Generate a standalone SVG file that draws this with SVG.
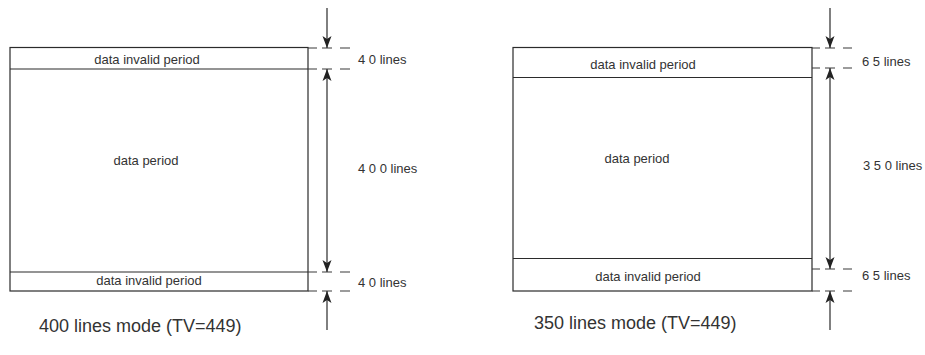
<svg xmlns="http://www.w3.org/2000/svg" width="925" height="355" viewBox="0 0 925 355">
<style>
.box{fill:none;stroke:#2b2b2b;stroke-width:1.2}
.ln{stroke:#2b2b2b;stroke-width:1.2;fill:none}
.dash{stroke:#3a3a3a;stroke-width:1.2;fill:none}
.t{font-family:"Liberation Sans",Arial,sans-serif;font-size:13px;fill:#333}
.tc{text-anchor:middle}
.big{font-family:"Liberation Sans",Arial,sans-serif;font-size:18px;fill:#333}
</style>
<defs>
<marker id="ah" markerUnits="userSpaceOnUse" markerWidth="14" markerHeight="12" refX="0" refY="0" viewBox="-13 -6 14 12" orient="auto-start-reverse">
<path d="M0,0 L-12,-4.5 L-9,0 L-12,4.5 Z" fill="#222"/>
</marker>
</defs>

<g id="left-diagram">
<g id="left-box">
<rect class="box" x="10" y="47.5" width="298" height="243.5"/>
<line class="ln" x1="10" y1="69" x2="308" y2="69"/>
<line class="ln" x1="10" y1="272" x2="308" y2="272"/>
</g>
<g id="left-top-invalid"><text class="t tc" x="147" y="64">data invalid period</text></g>
<g id="left-data"><text class="t tc" x="146" y="165">data period</text></g>
<g id="left-bottom-invalid"><text class="t tc" x="149" y="285">data invalid period</text></g>
<g id="left-labels">
<text class="t" x="358" y="64">4 0 lines</text>
<text class="t" x="358" y="173">4 0 0 lines</text>
<text class="t" x="358" y="287">4 0 lines</text>
</g>
<g id="left-caption"><text class="big" x="39" y="332">400 lines mode (TV=449)</text></g>
</g>

<g id="right-diagram">
<g id="right-box">
<rect class="box" x="513" y="47.5" width="299" height="243.5"/>
<line class="ln" x1="513" y1="77.5" x2="812" y2="77.5"/>
<line class="ln" x1="513" y1="258.5" x2="812" y2="258.5"/>
</g>
<g id="right-top-invalid"><text class="t tc" x="643" y="69">data invalid period</text></g>
<g id="right-data"><text class="t tc" x="637" y="163">data period</text></g>
<g id="right-bottom-invalid"><text class="t tc" x="648" y="281">data invalid period</text></g>
<g id="right-labels">
<text class="t" x="862" y="66">6 5 lines</text>
<text class="t" x="863" y="170">3 5 0 lines</text>
<text class="t" x="862" y="280">6 5 lines</text>
</g>
<g id="right-caption"><text class="big" x="534" y="329">350 lines mode (TV=449)</text></g>
</g>

<g id="connectors">
<path class="dash" d="M308,48 H317 M322,48 H332 M340,48 H350"/>
<path class="dash" d="M308,69 H317 M322,69 H332 M340,69 H350"/>
<path class="dash" d="M308,272 H317 M322,272 H332 M340,272 H350"/>
<path class="dash" d="M308,291 H317 M322,291 H332 M340,291 H350"/>
<line class="ln" x1="327" y1="8" x2="327" y2="48" marker-end="url(#ah)"/>
<line class="ln" x1="327" y1="69" x2="327" y2="272" marker-start="url(#ah)" marker-end="url(#ah)"/>
<line class="ln" x1="327" y1="330" x2="327" y2="291" marker-end="url(#ah)"/>
<path class="dash" d="M812,48 H820 M825,48 H835 M843,48 H852"/>
<path class="dash" d="M812,68 H820 M825,68 H835 M843,68 H852"/>
<path class="dash" d="M812,269 H820 M825,269 H835 M843,269 H852"/>
<path class="dash" d="M812,291 H820 M825,291 H835 M843,291 H852"/>
<line class="ln" x1="830" y1="8" x2="830" y2="48" marker-end="url(#ah)"/>
<line class="ln" x1="830" y1="68" x2="830" y2="269" marker-start="url(#ah)" marker-end="url(#ah)"/>
<line class="ln" x1="830" y1="330" x2="830" y2="291" marker-end="url(#ah)"/>
</g>
</svg>
